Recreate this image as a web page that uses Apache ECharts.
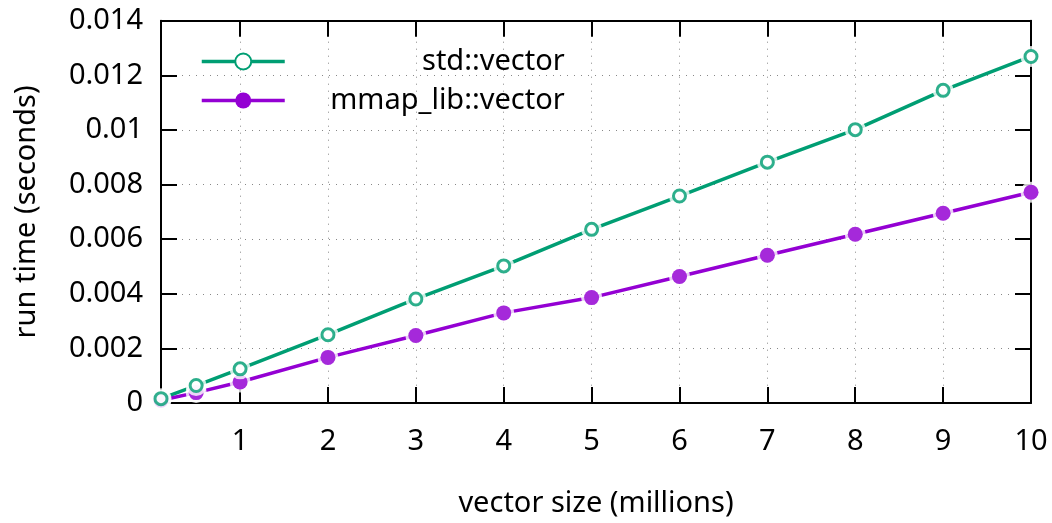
<!DOCTYPE html>
<html>
<head>
<meta charset="utf-8">
<script src="https://cdn.jsdelivr.net/npm/echarts@6/dist/echarts.min.js"></script>
<style>html,body{margin:0;padding:0;background:#fff;}#c{width:1052px;height:523px;}</style>
</head>
<body>
<div id="c"></div>
<script>
const sizes = [0.1, 0.5, 1, 2, 3, 4, 5, 6, 7, 8, 9, 10];
const stdVector = [0.00016, 0.00064, 0.00125, 0.0025, 0.00381, 0.00502, 0.00636, 0.00758, 0.00882, 0.01001, 0.01145, 0.01269];
const mmapVector = [0.0001, 0.00038, 0.00077, 0.00167, 0.00247, 0.0033, 0.00386, 0.00463, 0.00541, 0.00618, 0.00695, 0.00772];
const xTicks = [1, 2, 3, 4, 5, 6, 7, 8, 9, 10];
const yTicks = [0, 0.002, 0.004, 0.006, 0.008, 0.01, 0.012, 0.014];

const GREEN = '#009e73', PURPLE = '#9400d3';
const FONT = 'Noto Sans';
const FS = 29;
const pts = v => sizes.map((x, i) => [x, v[i]]);

const chart = echarts.init(document.getElementById('c'), null, {renderer: 'canvas'});
const frame = {show: true, onZero: false, lineStyle: {color: '#000', width: 2}};
const grid = {type: [1, 6], color: '#888', width: 1};
chart.setOption({
  animation: false,
  backgroundColor: '#fff',
  textStyle: {fontFamily: FONT},
  grid: {left: 161, right: 21, top: 20.7, bottom: 118.7},
  legend: {
    orient: 'vertical', left: 195, top: 42, itemWidth: 83, itemHeight: 20, itemGap: 10,
    data: ['std::vector', 'mmap_lib::vector'],
    lineStyle: {width: 3.5},
    formatter: n => '{t|' + n + '}',
    textStyle: {rich: {t: {width: 275, align: 'right', fontSize: FS, lineHeight: 30, color: '#000', fontFamily: FONT}}}
  },
  xAxis: [{
    type: 'value', min: 0.1, max: 10, position: 'bottom',
    name: 'vector size (millions)', nameLocation: 'middle', nameGap: 86,
    nameTextStyle: {fontSize: FS, color: '#000', fontFamily: FONT},
    axisLine: frame,
    axisTick: {show: true, inside: true, length: 16, customValues: xTicks, lineStyle: {color: '#000', width: 2}},
    axisLabel: {customValues: xTicks, fontSize: FS, color: '#000', margin: 24, fontFamily: FONT},
    splitLine: {show: true, lineStyle: grid}
  }, {
    type: 'value', min: 0.1, max: 10, position: 'top',
    axisLine: frame,
    axisTick: {show: true, inside: true, length: 16, customValues: xTicks, lineStyle: {color: '#000', width: 2}},
    axisLabel: {show: false, customValues: xTicks},
    splitLine: {show: false}
  }],
  yAxis: [{
    type: 'value', min: 0, max: 0.014, interval: 0.002, position: 'left',
    name: 'run time (seconds)', nameLocation: 'middle', nameGap: 120,
    nameTextStyle: {fontSize: FS, color: '#000', fontFamily: FONT},
    axisLine: frame,
    axisTick: {show: true, inside: true, length: 16, lineStyle: {color: '#000', width: 2}},
    axisLabel: {fontSize: FS, color: '#000', margin: 18, fontFamily: FONT,
      formatter: v => String(parseFloat(v.toFixed(3)))},
    splitLine: {show: true, lineStyle: grid}
  }, {
    type: 'value', min: 0, max: 0.014, interval: 0.002, position: 'right',
    axisLine: frame,
    axisTick: {show: true, inside: true, length: 16, lineStyle: {color: '#000', width: 2}},
    axisLabel: {show: false},
    splitLine: {show: false}
  }],
  series: [
    {name: 'std::vector', type: 'line', z: 2, data: pts(stdVector), symbol: 'emptyCircle', symbolSize: 12,
      itemStyle: {color: GREEN, borderWidth: 3}, lineStyle: {color: GREEN, width: 3.5}},
    {name: 'mmap_lib::vector', type: 'line', z: 2, data: pts(mmapVector), symbol: 'circle', symbolSize: 15,
      itemStyle: {color: PURPLE}, lineStyle: {color: PURPLE, width: 3.5}},
    {type: 'scatter', z: 3, data: pts(mmapVector), symbol: 'circle', symbolSize: 21, silent: true,
      itemStyle: {color: '#fff'}},
    {type: 'scatter', z: 4, data: pts(mmapVector), symbol: 'circle', symbolSize: 15, silent: true,
      itemStyle: {color: PURPLE}},
    {type: 'scatter', z: 5, data: pts(stdVector), symbol: 'circle', symbolSize: 21, silent: true,
      itemStyle: {color: '#fff'}},
    {type: 'scatter', z: 6, data: pts(stdVector), symbol: 'circle', symbolSize: 12, silent: true,
      itemStyle: {color: '#fff', borderColor: GREEN, borderWidth: 3}}
  ]
});
</script>
</body>
</html>
